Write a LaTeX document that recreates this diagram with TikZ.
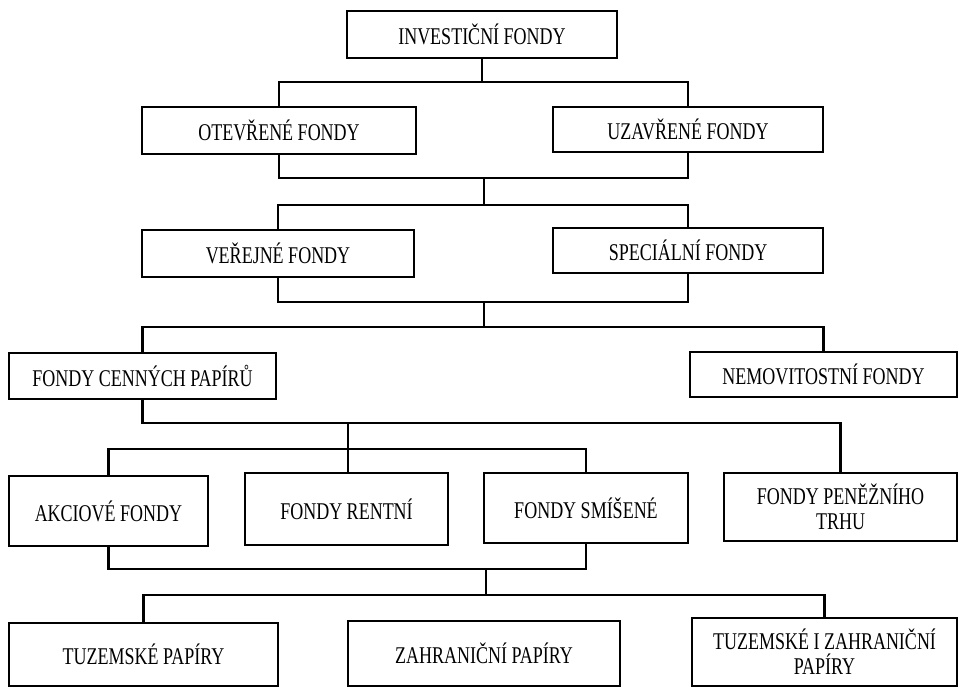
\documentclass[tikz,border=0pt]{standalone}
\usepackage{fontspec}
\setmainfont{Liberation Serif}[FakeStretch=0.75]
\usepackage{tikz}
\usetikzlibrary{calc}
\newcommand{\pictureWidth}{959}
\newcommand{\pictureHeight}{688}
\newcommand{\boxLine}{2pt}
\newcommand{\linkLine}{1.8pt}
\newcommand{\fundFont}{\fontsize{18}{19}\selectfont}
% name/x/y/width/height/text, all in pixels of the page
\newcommand{\fundBoxes}{inv/482/34.5/270/47/{INVESTIČNÍ FONDY}, ote/279/130.5/274/47/{OTEVŘENÉ FONDY}, uza/688/129.5/270/45/{UZAVŘENÉ FONDY}, ver/278/253.5/272/47/{VEŘEJNÉ FONDY}, spe/688/250.5/270/45/{SPECIÁLNÍ FONDY}, fcp/142.5/376/267/46/{FONDY CENNÝCH PAPÍRŮ}, nem/823.5/374.5/267/45/{NEMOVITOSTNÍ FONDY}, akc/108.5/511/199/70/{AKCIOVÉ FONDY}, ren/346.5/509/203/72/{FONDY RENTNÍ}, smi/586/508/204/70/{FONDY SMÍŠENÉ}, pen/840.5/507/233/68/{FONDY PENĚŽNÍHO\\TRHU}, tuz/143.5/654.5/269/63/{TUZEMSKÉ PAPÍRY}, zah/484/653.5/272/65/{ZAHRANIČNÍ PAPÍRY}, tiz/824.5/652/265/68/{TUZEMSKÉ I ZAHRANIČNÍ\\PAPÍRY}}
\tikzset{
	fund/.style={draw, line width=\boxLine, inner sep=0pt, align=center, font=\fundFont},
	link/.style={line width=\linkLine}
}
\begin{document}
\begin{tikzpicture}[x=0.75pt, y=-0.75pt]
	\useasboundingbox (0,0) rectangle (\pictureWidth,\pictureHeight);
	
	\foreach \boxName/\boxX/\boxY/\boxW/\boxH/\boxText in \fundBoxes
	{
		\node[fund, minimum width=\boxW*0.75pt, minimum height=\boxH*0.75pt] (\boxName) at (\boxX,\boxY) {\boxText};
	}
	
	% junctions of the bars
	\coordinate (j1) at (482,82);
	\coordinate (j2) at (484,178);
	\coordinate (j3) at (484,205);
	\coordinate (j4) at (484,302);
	\coordinate (j5) at (484,327);
	\coordinate (j6) at (348,423);
	\coordinate (j7) at (348,449);
	\coordinate (j8) at (486,569);
	\coordinate (j9) at (486,595);
	
	\draw[link] (inv.south) -- (inv.south |- j1);
	\draw[link] (ote.north) |- (j1) -| (uza.north);
	\draw[link] (ote.south) |- (j2) -| (uza.south);
	\draw[link] (j2) -- (j3);
	\draw[link] (ver.north) |- (j3) -| (spe.north);
	\draw[link] (ver.south) |- (j4) -| (spe.south);
	\draw[link] (j4) -- (j5);
	\draw[link] (fcp.north) |- (j5) -| (nem.north);
	\draw[link] (fcp.south) |- (j6) -| (pen.north);
	\draw[link] (j6) -- (j6 |- ren.north);
	\draw[link] (akc.north) |- (j7) -| (smi.north);
	\draw[link] (akc.south) |- (j8) -| (smi.south);
	\draw[link] (j8) -- (j9);
	\draw[link] (tuz.north) |- (j9) -| (tiz.north);
\end{tikzpicture}
\end{document}
